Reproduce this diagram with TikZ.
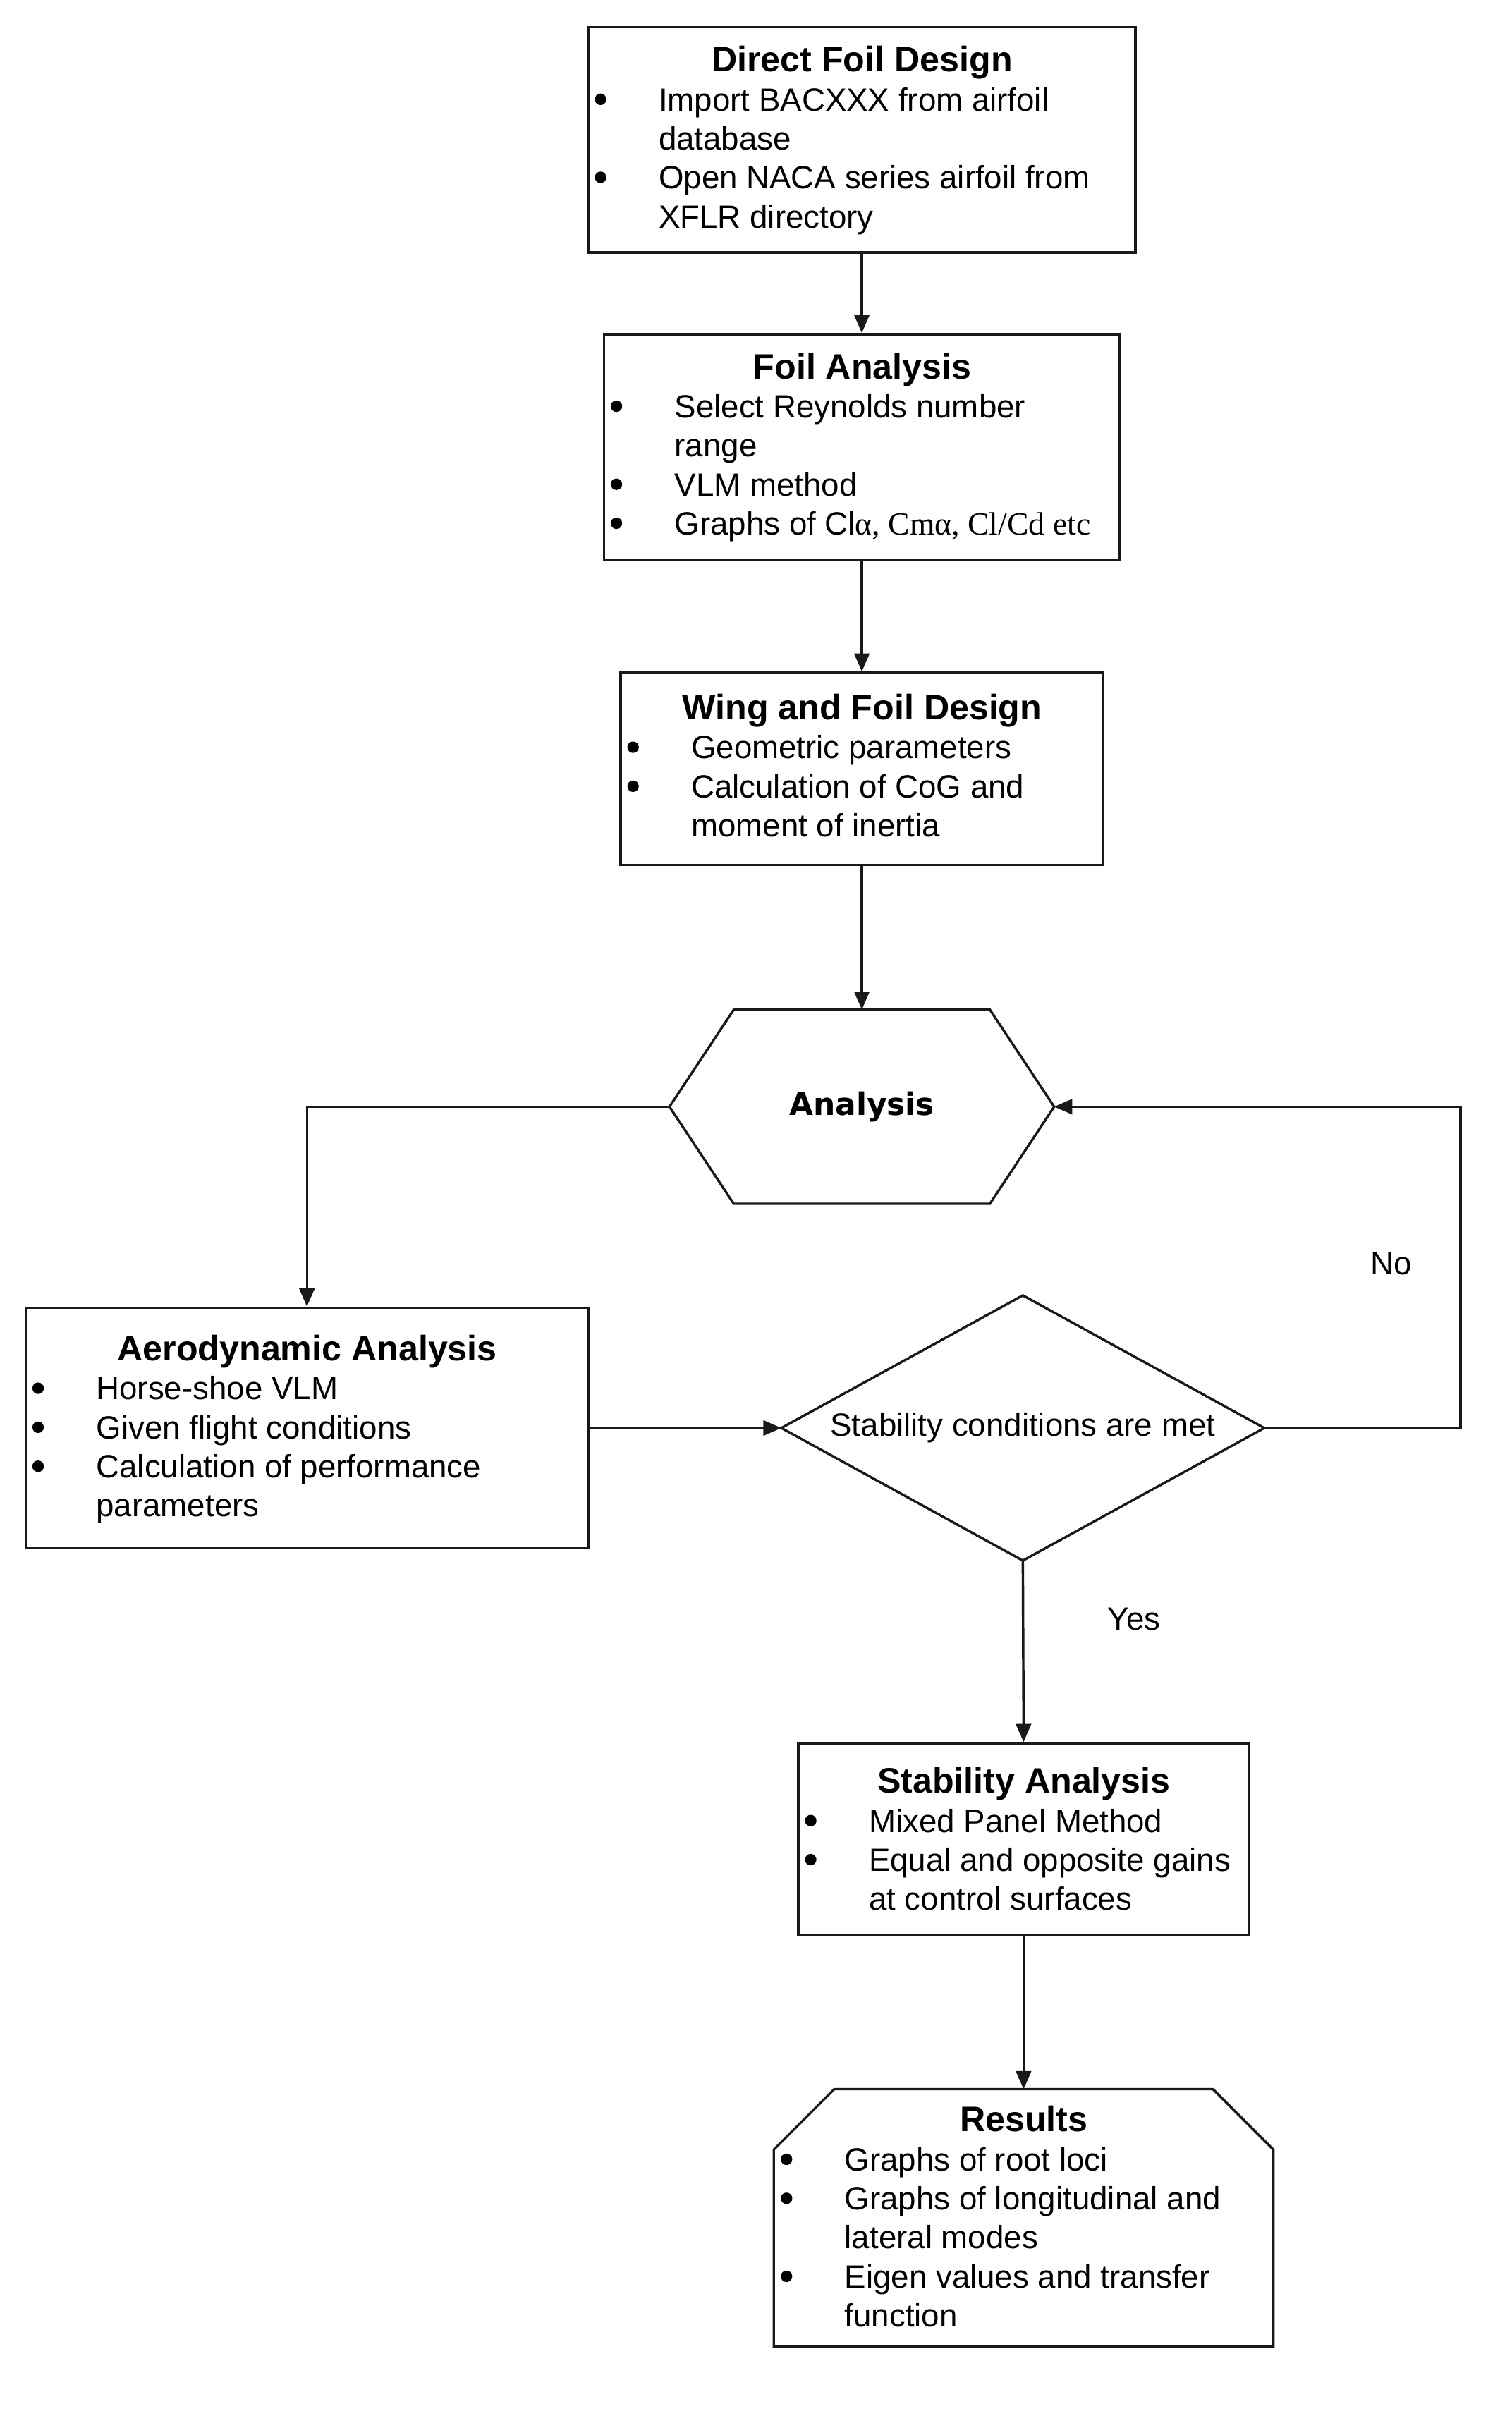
\documentclass[tikz,border=0pt]{standalone}
\usepackage{fontspec}
\setmainfont{Liberation Sans}
\newfontfamily\serifgr{Liberation Serif}
\newfontfamily\hexfont{DejaVu Sans}
\usetikzlibrary{arrows.meta}
\newcommand{\bodyfont}{\fontsize{21.3}{25.8}\selectfont}
\newcommand{\ttl}[1]{{\centering\fontsize{23.4}{25.8}\selectfont\bfseries #1\par}}
\newcommand{\bul}{\tikz[baseline=0pt]{\path (0pt,0pt); \fill[black] (8pt,7.6pt) circle[radius=3.8pt];}}
\newcommand{\itm}[1]{\noindent\makebox[46.5pt][l]{\bul}#1\par}
\newcommand{\cnt}[1]{\noindent\hspace*{46.5pt}#1\par}
\newcommand{\content}[2]{\parbox[t]{#1}{\bodyfont\raggedright\parindent=0pt #2}}
\begin{document}
\begin{tikzpicture}[x=1pt,y=-1pt,
  line/.style={draw=black!90,line width=1.6pt},
  frame/.style={rectangle,inner sep=0pt,line,fill=white},
  ghost/.style={rectangle,inner sep=0pt},
  txt/.style={inner sep=0pt,anchor=base west},
  arr/.style={line,-{Triangle[length=12pt,width=10pt]}},
  lbl/.style={inner sep=0pt,font=\bodyfont}]
\useasboundingbox[fill=white] (0,0) rectangle (1000,1598);

% boxes
\node[frame,minimum width=362pt,minimum height=149pt] (b1) at (570,92.5) {};
\node[txt] (c1) at (389,47.5) {\content{362pt}{\ttl{Direct Foil Design}
  \itm{Import BACXXX from airfoil}\cnt{database}
  \itm{Open NACA series airfoil from}\cnt{XFLR directory}}};

\node[frame,minimum width=341pt,minimum height=149pt] (b2) at (570,295.5) {};
\node[txt] (c2) at (399.5,250.5) {\content{341pt}{\ttl{Foil Analysis}
  \itm{Select Reynolds number}\cnt{range}
  \itm{VLM method}
  \itm{Graphs of Cl{\serifgr α, Cmα, Cl/Cd etc}}}};

\node[frame,minimum width=319pt,minimum height=127pt] (b3) at (570,508.5) {};
\node[txt] (c3) at (410.5,476) {\content{319pt}{\ttl{Wing and Foil Design}
  \itm{Geometric parameters}
  \itm{Calculation of CoG and}\cnt{moment of inertia}}};

% hexagon
\node[ghost,minimum width=254pt,minimum height=128pt] (hex) at (570,732) {};
\draw[line,fill=white] (hex.west) -- ([xshift=42.5pt]hex.north west) -- ([xshift=-42.5pt]hex.north east)
  -- (hex.east) -- ([xshift=-42.5pt]hex.south east) -- ([xshift=42.5pt]hex.south west) -- cycle;
\node[inner sep=0pt,font=\hexfont\fontsize{20.5}{24}\selectfont\bfseries] (hext) at (hex.center) {Analysis};

% aerodynamic
\node[frame,minimum width=372pt,minimum height=159pt] (aero) at (203,944.5) {};
\node[txt] (c4) at (17,900) {\content{372pt}{\ttl{Aerodynamic Analysis}
  \itm{Horse-shoe VLM}
  \itm{Given flight conditions}
  \itm{Calculation of performance}\cnt{parameters}}};

% diamond
\node[ghost,minimum width=319pt,minimum height=175pt] (dia) at (676.5,944.5) {};
\draw[line,fill=white] (dia.west) -- (dia.north) -- (dia.east) -- (dia.south) -- cycle;
\node[lbl] (diat) at (dia.center) {Stability conditions are met};

% stability
\node[frame,minimum width=298pt,minimum height=127pt] (stab) at (677,1216.5) {};
\node[txt] (c5) at (528,1186) {\content{298pt}{\ttl{Stability Analysis}
  \itm{Mixed Panel Method}
  \itm{Equal and opposite gains}\cnt{at control surfaces}}};

% results
\node[ghost,minimum width=330pt,minimum height=170pt] (res) at (677,1467) {};
\draw[line,fill=white] ([yshift=-40pt]res.north west) -- ([xshift=40pt]res.north west) -- ([xshift=-40pt]res.north east)
  -- ([yshift=-40pt]res.north east) -- (res.south east) -- (res.south west) -- cycle;
\node[txt] (c6) at (512,1410) {\content{330pt}{\ttl{Results}
  \itm{Graphs of root loci}
  \itm{Graphs of longitudinal and}\cnt{lateral modes}
  \itm{Eigen values and transfer}\cnt{function}}};

% labels
\node[lbl] (no) at (920,836) {No};
\node[lbl] (yes) at (750,1071) {Yes};

% connectors
\coordinate (loop) at (966,944.5);
\draw[arr] (b1.south) -- (b2.north);
\draw[arr] (b2.south) -- (b3.north);
\draw[arr] (b3.south) -- (hex.north);
\draw[arr] (hex.west) -| (aero.north);
\draw[arr] (aero.east) -- (dia.west);
\draw[arr] (dia.east) -- (loop) |- (hex.east);
\draw[arr] (dia.south) -- (stab.north);
\draw[arr] (stab.south) -- (res.north);
\end{tikzpicture}
\end{document}
